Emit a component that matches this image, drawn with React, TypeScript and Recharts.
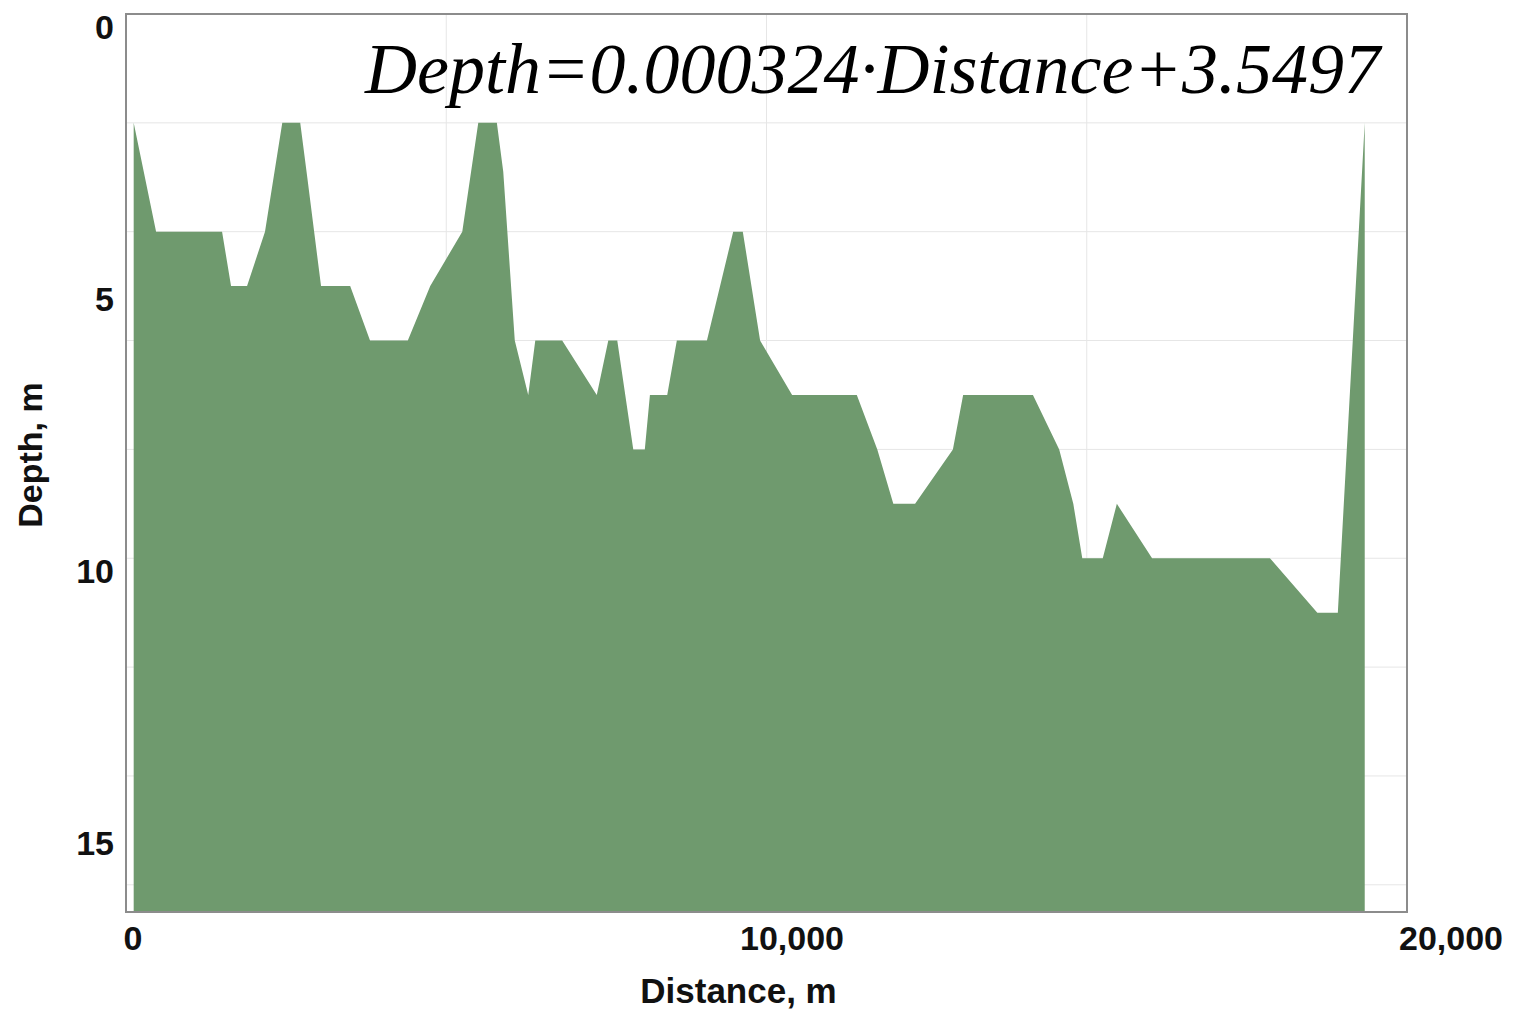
import { Area, AreaChart, CartesianGrid, ReferenceArea, XAxis, YAxis } from 'recharts';

// bathymetric profile (distance in m, depth in m)
const distances = [
  120, 470, 1500, 1640, 1890, 2170, 2440, 2720, 2830, 3045, 3500, 3810, 4400, 4750, 5250,
  5500, 5790, 5890, 6070, 6280, 6390, 6810, 7350, 7530, 7670, 7920, 8100, 8180, 8450, 8600,
  9070, 9480, 9630, 9900, 10400, 11410, 11730, 11980, 12320, 12910, 13070, 14160, 14570,
  14790, 14930, 15250, 15470, 16020, 17860, 18600, 18920, 19340,
];
const depths = [
  2, 4, 4, 5, 5, 4, 2, 2, 3, 5, 5, 6, 6, 5, 4,
  2, 2, 2.9, 6, 7, 6, 6, 7, 6, 6, 8, 8, 7, 7, 6,
  6, 4, 4, 6, 7, 7, 8, 9, 9, 8, 7, 7, 8,
  9, 10, 10, 9, 10, 10, 11, 11, 2,
];

const xTicks = [0, 5000, 10000, 15000, 20000];
const xLabelTicks = [0, 10000, 20000];
const yTicks = [0, 5, 10, 15];
const yGridTicks = [2, 4, 6, 8, 10, 12, 14, 16];
const equation = 'Depth=0.000324·Distance+3.5497';

const X_MAX = 20000;
const Y_MAX = 16.5;
const FILL = '#6f9a6e';
const SANS = 'Arial, "Liberation Sans", sans-serif';

const data = distances.map((distance, i) => ({ distance, depth: depths[i] }));

function XTick({ x, y, payload }: any) {
  if (!xLabelTicks.includes(payload.value)) return <g />;
  // labels in the source sit slightly right of their grid positions
  const shift = 7 + (payload.value / X_MAX) * 37;
  return (
    <text
      x={x + shift}
      y={y + 26}
      textAnchor="middle"
      dominantBaseline="central"
      fontFamily={SANS}
      fontWeight="bold"
      fontSize={34}
      fill="#111"
    >
      {payload.value.toLocaleString('en-US')}
    </text>
  );
}

function YTick({ x, y, payload }: any) {
  return (
    <text
      x={x}
      y={y + 13}
      textAnchor="end"
      dominantBaseline="central"
      fontFamily={SANS}
      fontWeight="bold"
      fontSize={34}
      fill="#111"
    >
      {payload.value}
    </text>
  );
}

function XTitle({ viewBox }: any) {
  return (
    <text
      x={viewBox.x + viewBox.width / 2 - 28}
      y={viewBox.y + 91}
      textAnchor="middle"
      fontFamily={SANS}
      fontWeight="bold"
      fontSize={35}
      fill="#111"
    >
      Distance, m
    </text>
  );
}

function YTitle({ viewBox }: any) {
  const cx = viewBox.x + 42;
  const cy = viewBox.y + viewBox.height / 2 - 8;
  return (
    <text
      x={cx}
      y={cy}
      transform={`rotate(-90 ${cx} ${cy})`}
      textAnchor="middle"
      fontFamily={SANS}
      fontWeight="bold"
      fontSize={34}
      fill="#111"
    >
      Depth, m
    </text>
  );
}

export default function App() {
  return (
    <div style={{ position: 'relative', width: 1521, height: 1024, background: '#fff' }}>
      <style>{'body { margin: 0; }'}</style>
      <AreaChart
        width={1521}
        height={1024}
        data={data}
        margin={{ top: 14, right: 114, left: 0, bottom: 0 }}
      >
        <CartesianGrid stroke="#e6e6e6" strokeWidth={1} horizontalValues={yGridTicks} />
        <XAxis
          type="number"
          dataKey="distance"
          domain={[0, X_MAX]}
          ticks={xTicks}
          interval={0}
          height={112}
          axisLine={false}
          tickLine={false}
          tickSize={0}
          tickMargin={0}
          tick={<XTick />}
          label={{ content: <XTitle /> }}
        />
        <YAxis
          type="number"
          domain={[0, Y_MAX]}
          reversed
          ticks={yTicks}
          interval={0}
          width={126}
          axisLine={false}
          tickLine={false}
          tickSize={0}
          tickMargin={12}
          tick={<YTick />}
          label={{ content: <YTitle /> }}
        />
        <Area
          type="linear"
          dataKey="depth"
          baseValue="dataMax"
          fill={FILL}
          fillOpacity={1}
          stroke="none"
          dot={false}
          activeDot={false}
          isAnimationActive={false}
        />
        <ReferenceArea
          x1={0}
          x2={X_MAX}
          y1={0}
          y2={Y_MAX}
          fill="none"
          stroke="#8c8c8c"
          strokeWidth={2}
        />
      </AreaChart>
      <svg
        width={1521}
        height={1024}
        style={{ position: 'absolute', left: 0, top: 0, pointerEvents: 'none' }}
      >
        <text
          x={1380}
          y={93}
          textAnchor="end"
          fontFamily='"Times New Roman", "Liberation Serif", serif'
          fontStyle="italic"
          fontSize={72}
          fill="#000"
        >
          {equation}
        </text>
      </svg>
    </div>
  );
}
